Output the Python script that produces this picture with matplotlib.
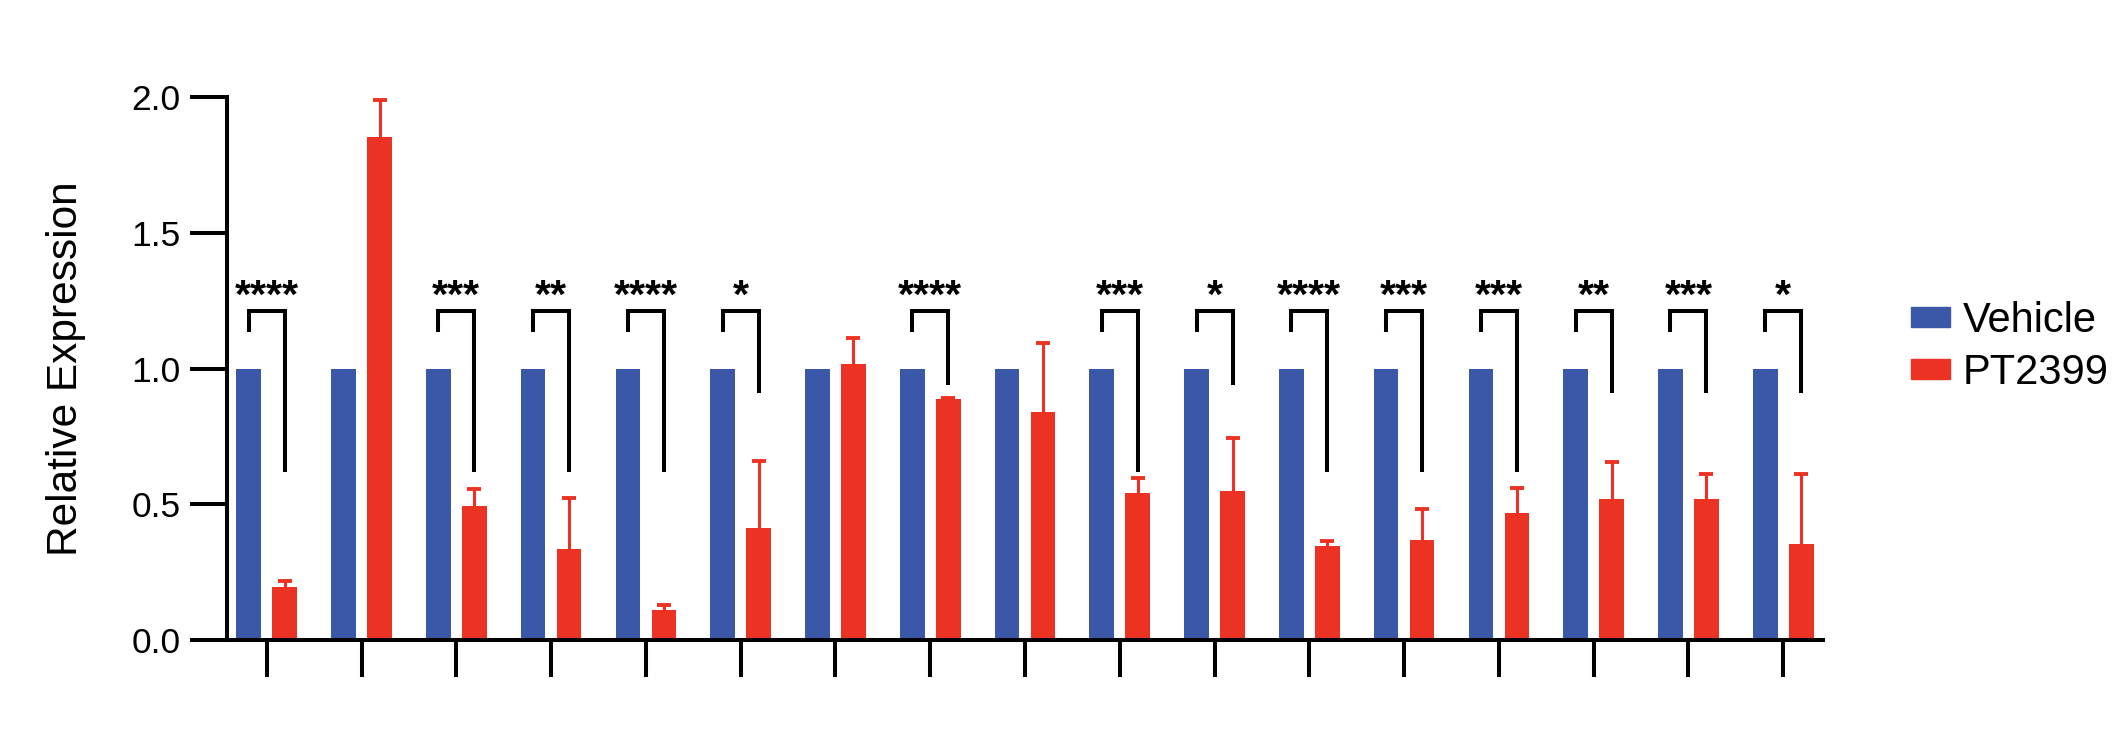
import numpy as np
import matplotlib
matplotlib.use("Agg")
import matplotlib.pyplot as plt
from matplotlib.patches import Patch

plt.rcParams['font.family'] = ['Liberation Sans', 'DejaVu Sans']

# values
vehicle = [1.0, 1.0, 1.0, 1.0, 1.0, 1.0, 1.0, 1.0, 1.0, 1.0, 1.0, 1.0, 1.0, 1.0, 1.0, 1.0, 1.0]
pt2399 = [0.197, 1.852, 0.492, 0.336, 0.110, 0.413, 1.015, 0.886, 0.839,
          0.542, 0.550, 0.345, 0.367, 0.468, 0.519, 0.519, 0.354]
pt2399_err = [0.020, 0.137, 0.064, 0.187, 0.020, 0.247, 0.096, 0.006, 0.255,
              0.055, 0.194, 0.020, 0.117, 0.091, 0.135, 0.091, 0.259]
stars = ['****', '', '***', '**', '****', '*', '', '****', '', '***',
         '*', '****', '***', '***', '**', '***', '*']
leg_bottom = [0.62, None, 0.62, 0.62, 0.62, 0.91, None, 0.94, None, 0.62,
              0.94, 0.62, 0.62, 0.62, 0.91, 0.91, 0.91]
bracket_top = 1.21
left_leg_bottom = 1.135
star_y = 1.222

BLUE = '#3B57A7'
RED = '#EC3323'

x = np.arange(len(vehicle))
w = 0.26
off = 0.19

fig = plt.figure(figsize=(21.21, 7.29), dpi=100)
ax = fig.add_axes([0.107, 0.122, 0.7525, 0.745])

ax.bar(x - off, vehicle, width=w, color=BLUE, zorder=2)
ax.bar(x + off, pt2399, width=w, color=RED, zorder=2)

# upper-only error bars (SD)
top = np.array(pt2399) + np.array(pt2399_err)
ax.vlines(x + off, pt2399, top, color=RED, lw=2.2, zorder=3)
ax.plot(x + off, top, ls='none', marker='_', ms=10.5, mew=2.8, color=RED, zorder=3)

# significance brackets
for i, s in enumerate(stars):
    if not s:
        continue
    xl, xr = x[i] - off, x[i] + off
    ax.plot([xl, xl, xr, xr], [left_leg_bottom, bracket_top, bracket_top, leg_bottom[i]],
            color='black', lw=2.9, solid_joinstyle='miter', solid_capstyle='butt', zorder=4)
    ax.text(x[i], star_y, s, ha='center', va='baseline', fontsize=29.5,
            fontweight='bold', zorder=5)

ax.set_xlim(-0.42, len(x) - 0.58)
ax.set_ylim(0, 2.0)
ax.set_yticks([0.0, 0.5, 1.0, 1.5, 2.0])
ax.set_yticklabels(['0.0', '0.5', '1.0', '1.5', '2.0'])
ax.set_xticks(x)
ax.set_xticklabels([])

for side in ['top', 'right']:
    ax.spines[side].set_visible(False)
for side in ['left', 'bottom']:
    ax.spines[side].set_linewidth(2.9)
ax.tick_params(axis='both', length=26.5, width=2.9, labelsize=25.5, pad=7, direction='out')
ax.set_ylabel('Relative Expression', fontsize=30.5)
ax.yaxis.set_label_coords(-0.088, 0.5)

handles = [Patch(color=BLUE, label='Vehicle'), Patch(color=RED, label='PT2399')]
fig.legend(handles=handles, loc='upper left', bbox_to_anchor=(0.9012, 0.587),
           frameon=False, fontsize=30, handlelength=0.92, handleheight=0.36,
           handletextpad=0.32, labelspacing=0.28, borderpad=0, borderaxespad=0)

fig.savefig('out.png', dpi=100)
